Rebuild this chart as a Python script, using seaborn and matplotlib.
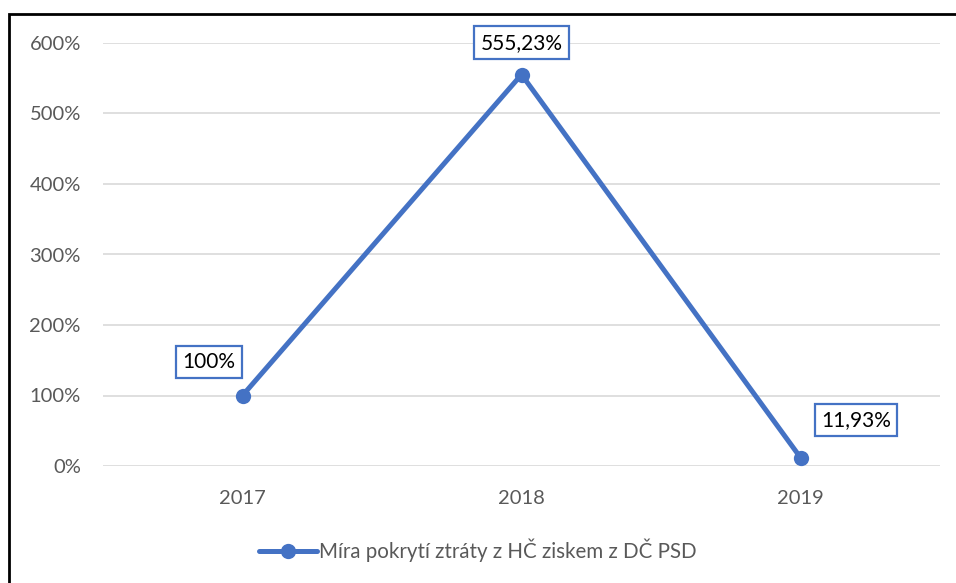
import numpy as np
import pandas as pd
import seaborn as sns
import matplotlib.pyplot as plt
from matplotlib.patches import Rectangle

years = ['2017', '2018', '2019']
values = [100, 555.23, 11.93]
labels = ['100%', '555,23%', '11,93%']
series_name = 'Míra pokrytí ztráty z HČ ziskem z DČ PSD'
yticks = [0, 100, 200, 300, 400, 500, 600]

df = pd.DataFrame({'rok': years, 'hodnota': values})

sns.set_theme(style='white')
plt.rcParams['font.family'] = ['Lato', 'DejaVu Sans']

blue = '#4472C4'
grey = '#595959'

fig = plt.figure(figsize=(9.56, 5.83), dpi=100)
ax = fig.add_axes([103/956, 1-466/583, 837/956, 423/583])

sns.lineplot(data=df, x='rok', y='hodnota', ax=ax, color=blue, linewidth=3.6,
             marker='o', markersize=11, markeredgewidth=0, label=series_name)

ax.set_xlim(-0.5, 2.5)
ax.set_ylim(0, 600)
ax.set_yticks(yticks)
ax.set_yticklabels([f'{t}%' for t in yticks])
ax.yaxis.grid(True, color='#D9D9D9', linewidth=1.2)
ax.set_axisbelow(True)
for s in ax.spines.values():
    s.set_visible(False)
ax.tick_params(axis='both', length=0, labelsize=14.5, labelcolor=grey)
ax.tick_params(axis='y', pad=16)
ax.tick_params(axis='x', pad=17)
ax.set_xlabel('')
ax.set_ylabel('')

offsets = [(-24, 24), (0, 23), (40, 27)]
for i, (v, lab) in enumerate(zip(values, labels)):
    ax.annotate(lab, (i, v), xytext=offsets[i], textcoords='offset points',
                ha='center', va='center', fontsize=15, color='black',
                bbox=dict(boxstyle='square,pad=0.3', fc='white', ec=blue, lw=1.6))

leg = ax.legend(loc='center', bbox_to_anchor=(0.5, 1-550/583), bbox_transform=fig.transFigure,
                frameon=False, fontsize=14.8, handlelength=2.8, handletextpad=0.1)
for t in leg.get_texts():
    t.set_color(grey)

fig.patches.append(Rectangle((9/956, -0.05), 1.2, 1.05-14/583, transform=fig.transFigure,
                             fill=False, edgecolor='black', linewidth=2))

fig.savefig('out.png', dpi=100)
